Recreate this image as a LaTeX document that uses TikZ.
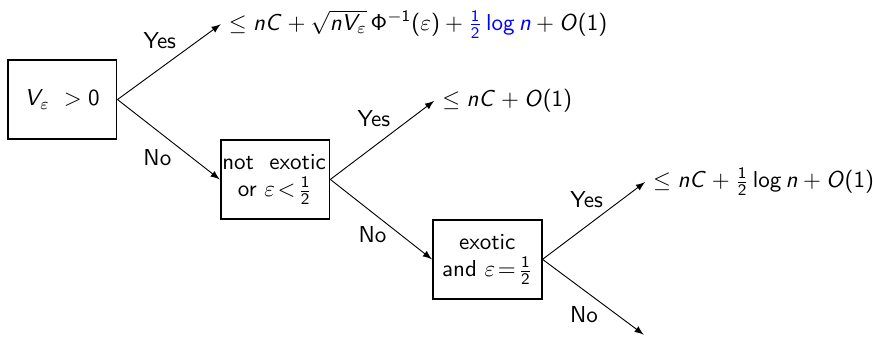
\documentclass[tikz,border=0pt]{standalone}
\renewcommand{\familydefault}{\sfdefault}
\DeclareSymbolFont{operators}{OT1}{cmss}{m}{n}
\DeclareSymbolFont{sfletters}{OT1}{cmss}{m}{sl}
\DeclareMathSymbol{n}{\mathalpha}{sfletters}{`n}
\DeclareMathSymbol{C}{\mathalpha}{sfletters}{`C}
\DeclareMathSymbol{V}{\mathalpha}{sfletters}{`V}
\DeclareMathSymbol{O}{\mathalpha}{sfletters}{`O}
\begin{document}
\begin{tikzpicture}[>=latex, scale=1,
    box/.style={draw, line width=0.8pt, minimum width=1.66cm, minimum height=1.21cm, align=center}]
    \useasboundingbox (0,0) rectangle (13.33,5.16);
    \node[box] (B1) at (0.95, 3.64) {$V_\varepsilon\ > 0$};
    \node[box] (B2) at (4.20, 2.42) {\makebox[1.4cm][l]{\hspace*{-3pt}not~ exotic}\\or $\varepsilon\!<\!\frac{1}{2}$};
    \node[box] (B3) at (7.44, 1.20) {exotic\\and $\varepsilon\!=\!\frac{1}{2}$};

    \node[anchor=west] (R1) at (3.37, 4.79) {$\leq nC+\sqrt{nV_\varepsilon}\,\Phi^{-1}(\varepsilon)+{\color{blue}\frac{1}{2}\log n}+O(1)$};
    \node[anchor=west] (R2) at (6.63, 3.62) {$\leq nC+O(1)$};
    \node[anchor=west] (R3) at (9.85, 2.38) {$\leq nC+\frac{1}{2}\log n+O(1)$};
    \coordinate (E3) at (9.83, 0.05);

    \draw[->] (B1.east) -- node[pos=0.41, above=5pt] {Yes} (R1.west);
    \draw[->] (B1.east) -- node[pos=0.39, below=4.5pt] {No} (B2.west);
    \draw[->] (B2.east) -- node[pos=0.42, above=5pt] {Yes} (R2.west);
    \draw[->] (B2.east) -- node[pos=0.415, below=2.5pt] {No} (B3.west);
    \draw[->] (B3.east) -- node[pos=0.43, above=4.5pt] {Yes} (R3.west);
    \draw[->] (B3.east) -- node[pos=0.41, below=3.5pt] {No} (E3);
\end{tikzpicture}
\end{document}
